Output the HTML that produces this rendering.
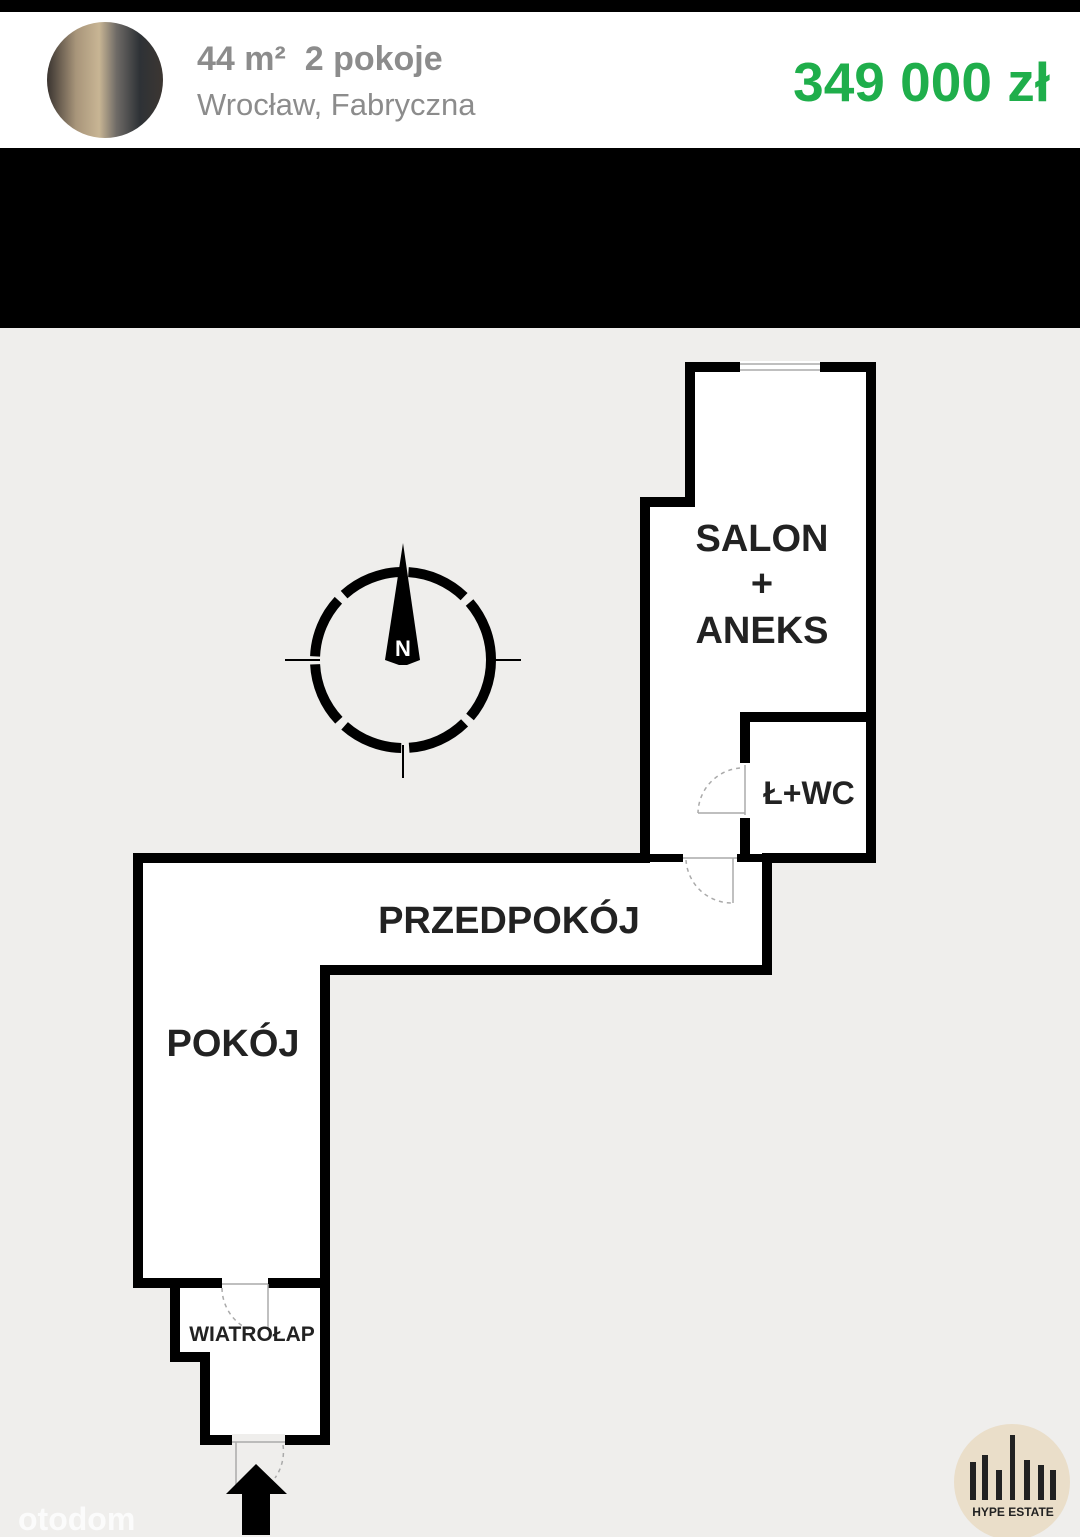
<!DOCTYPE html>
<html><head><meta charset="utf-8"><style>
html,body{margin:0;padding:0;width:1080px;height:1537px;overflow:hidden;background:#efeeec;font-family:"Liberation Sans",sans-serif}
.top{position:absolute;left:0;top:0;width:1080px;height:12px;background:#000}
.hdr{position:absolute;left:0;top:12px;width:1080px;height:136px;background:#fff}
.blk{position:absolute;left:0;top:148px;width:1080px;height:180px;background:#000}
.av{position:absolute;left:47px;top:22px;width:116px;height:116px;border-radius:50%;background:linear-gradient(90deg,#3a3430 0%,#a8957a 25%,#c8b594 45%,#6e6a66 60%,#2e3236 80%,#3c3632 100%)}
.t1{position:absolute;left:197px;top:40px;font-size:34px;font-weight:bold;color:#8c8c8c}
.t2{position:absolute;left:197px;top:87px;font-size:31px;color:#8c8c8c}
.pr{position:absolute;right:30px;top:50px;font-size:55px;font-weight:bold;color:#1fae4b}
svg{position:absolute;left:0;top:0}
</style></head><body>
<div class="top"></div><div class="hdr"></div><div class="blk"></div>
<div class="av"></div>
<div class="t1">44 m²&nbsp; 2 pokoje</div>
<div class="t2">Wrocław, Fabryczna</div>
<div class="pr">349 000 zł</div>
<svg width="1080" height="1537" viewBox="0 0 1080 1537">
<path d="M690 367 H871 V858 H767 V970 H325 V1440 H205 V1357 H175 V1283 H138 V858 H645 V502 H690 Z" fill="#fff" stroke="#000" stroke-width="10"/>
<line x1="645" y1="858" x2="767" y2="858" stroke="#000" stroke-width="8"/>
<line x1="745" y1="712" x2="745" y2="862" stroke="#000" stroke-width="10"/>
<line x1="740" y1="717" x2="876" y2="717" stroke="#000" stroke-width="10"/>
<line x1="138" y1="1283" x2="325" y2="1283" stroke="#000" stroke-width="10"/>
<rect x="683" y="852" width="54" height="12" fill="#fff"/>
<rect x="739" y="763" width="12" height="55" fill="#fff"/>
<rect x="222" y="1277" width="46" height="12" fill="#fff"/>
<rect x="232" y="1434" width="53" height="12" fill="#efeeec"/>
<rect x="740" y="361" width="80" height="12" fill="#fff"/>
<g stroke="#aaa" stroke-width="1.5" fill="none">
<line x1="740" y1="364" x2="820" y2="364"/><line x1="740" y1="370" x2="820" y2="370"/>
<line x1="683" y1="858" x2="737" y2="858"/><line x1="733" y1="858" x2="733" y2="903"/>
<path d="M686 860 A46 46 0 0 0 733 903" stroke-dasharray="4 4"/>
<line x1="745" y1="765" x2="745" y2="815"/><line x1="745" y1="813" x2="698" y2="813"/>
<path d="M740 768 A46 46 0 0 0 698 813" stroke-dasharray="4 4"/>
<line x1="222" y1="1284" x2="268" y2="1284"/><line x1="268" y1="1284" x2="268" y2="1330"/>
<path d="M222 1288 A46 46 0 0 0 250 1330" stroke-dasharray="4 4"/>
<line x1="232" y1="1442" x2="285" y2="1442"/><line x1="236" y1="1442" x2="236" y2="1490"/>
<path d="M283 1445 A46 46 0 0 1 275 1478" stroke-dasharray="4 4"/>
</g>
<path d="M256 1464 L287 1494 L270 1494 L270 1535 L242 1535 L242 1494 L226 1494 Z" fill="#000"/>
<circle cx="403" cy="660" r="88" fill="none" stroke="#000" stroke-width="10" stroke-dasharray="62 8"/>
<line x1="285" y1="660" x2="320" y2="660" stroke="#000" stroke-width="2"/>
<line x1="486" y1="660" x2="521" y2="660" stroke="#000" stroke-width="2"/>
<line x1="403" y1="745" x2="403" y2="778" stroke="#000" stroke-width="2"/>
<path d="M403 543 L420 660 L407 665 L399 665 L385 660 Z" fill="#000"/>
<text x="403" y="656" font-size="22" font-weight="bold" fill="#fff" text-anchor="middle">N</text>
<g font-weight="bold" fill="#222" text-anchor="middle" font-size="38">
<text x="762" y="551">SALON</text>
<text x="762" y="596">+</text>
<text x="762" y="643">ANEKS</text>
<text x="809" y="804" font-size="32">Ł+WC</text>
<text x="509" y="933">PRZEDPOKÓJ</text>
<text x="233" y="1056">POKÓJ</text>
<text x="252" y="1341" font-size="21">WIATROŁAP</text>
</g>
<text x="18" y="1530" font-size="32" font-weight="bold" fill="#fff" opacity="0.8">otodom</text>
<circle cx="1012" cy="1482" r="58" fill="#e9d9c0" opacity="0.8"/>
<g fill="#222"><rect x="970" y="1462" width="6" height="38"/><rect x="982" y="1455" width="6" height="45"/><rect x="996" y="1470" width="6" height="30"/><rect x="1010" y="1435" width="5" height="65"/><rect x="1024" y="1460" width="6" height="40"/><rect x="1038" y="1465" width="6" height="35"/><rect x="1050" y="1470" width="6" height="30"/></g>
<text x="1013" y="1516" font-size="12" font-weight="bold" fill="#222" text-anchor="middle">HYPE ESTATE</text>
</svg>
</body></html>
